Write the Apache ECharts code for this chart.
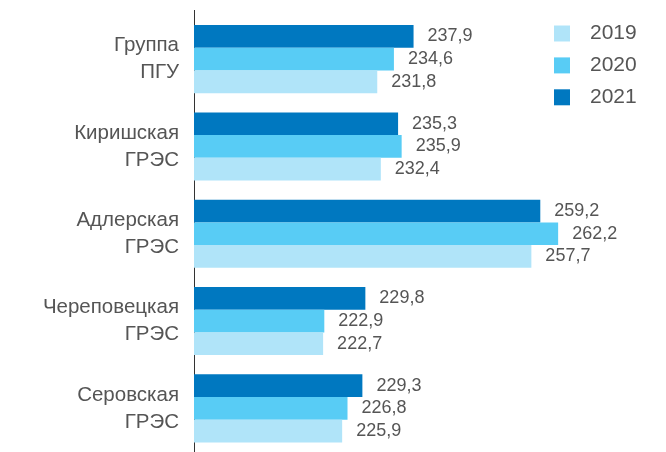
<!DOCTYPE html>
<html><head><meta charset="utf-8">
<script src="https://cdn.jsdelivr.net/npm/echarts@6/dist/echarts.min.js"></script>
<style>html,body{margin:0;padding:0;background:#fff}#c{width:666px;height:452px}</style>
</head><body><div id="c"></div>
<script>
var categories = ['Группа\nПГУ', 'Киришская\nГРЭС', 'Адлерская\nГРЭС', 'Череповецкая\nГРЭС', 'Серовская\nГРЭС'];
var years = ['2019', '2020', '2021'];
var v2019 = [231.8, 232.4, 257.7, 222.7, 225.9];
var v2020 = [234.6, 235.9, 262.2, 222.9, 226.8];
var v2021 = [237.9, 235.3, 259.2, 229.8, 229.3];
var colors = {'2019': '#b0e4f9', '2020': '#58ccf5', '2021': '#0078c0'};

var chart = echarts.init(document.getElementById('c'), null, {renderer: 'canvas'});
function mk(name, data) {
  return {
    name: name, type: 'bar', data: data, barWidth: 22.7, barGap: '0%',
    itemStyle: {color: colors[name]},
    label: {show: true, position: 'right', distance: 14, color: '#555', fontSize: 18,
      fontFamily: 'Liberation Sans',
      formatter: function (p) { return String(p.value.toFixed(1)).replace('.', ','); }},
    emphasis: {disabled: true}, animation: false
  };
}
chart.setOption({
  animation: false,
  grid: {left: 194, top: 15.5, height: 445, width: 416.5},
  legend: {
    orient: 'vertical', left: 549, top: 18, itemWidth: 16, itemHeight: 16, itemGap: 10.9,
    data: years, icon: 'rect',
    textStyle: {color: '#555', fontSize: 21, lineHeight: 16, fontFamily: 'Liberation Sans', padding: [0, 0, 0, 15]}
  },
  xAxis: {type: 'value', min: 201, max: 271, show: false},
  yAxis: {
    type: 'category', data: categories, inverse: true,
    axisLine: {show: false}, axisTick: {show: false},
    axisLabel: {color: '#555', fontSize: 20.5, lineHeight: 27, margin: 15, fontFamily: 'Liberation Sans', align: 'right'}
  },
  graphic: [{type: 'line', shape: {x1: 194.5, y1: 10, x2: 194.5, y2: 452}, style: {stroke: '#333', lineWidth: 1}}],
  series: [mk('2021', v2021), mk('2020', v2020), mk('2019', v2019)]
});
</script></body></html>
